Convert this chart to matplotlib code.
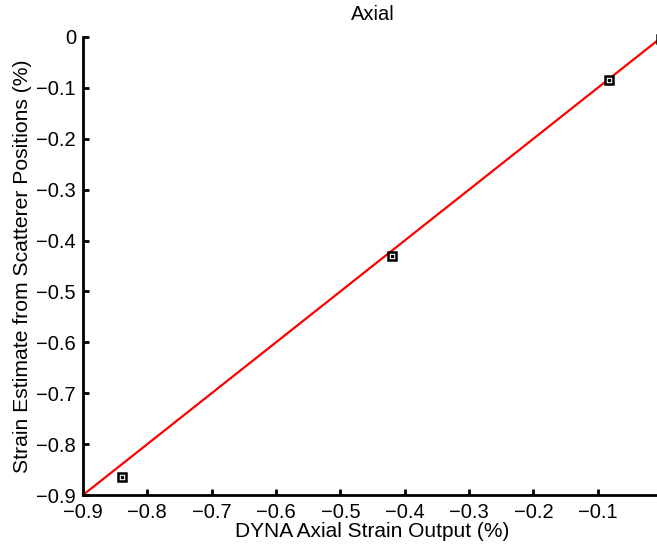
import matplotlib
matplotlib.use("Agg")
import matplotlib.pyplot as plt
import numpy as np

dyna_strain = [-0.840, -0.420, -0.082, -0.002]
scatter_strain = [-0.864, -0.430, -0.0845, -0.004]
fit_x = [-0.9, 0.0]
fit_y = [-0.9, 0.0]
xticks = [-0.9, -0.8, -0.7, -0.6, -0.5, -0.4, -0.3, -0.2, -0.1]
yticks = [0, -0.1, -0.2, -0.3, -0.4, -0.5, -0.6, -0.7, -0.8, -0.9]

plt.rcParams['font.family'] = ['Liberation Sans', 'DejaVu Sans']
plt.rcParams['axes.unicode_minus'] = True

fig = plt.figure(figsize=(6.57, 5.48), dpi=100)
ax = fig.add_axes([83/657, 53/548, 579/657, 458/548])

ax.plot(fit_x, fit_y, color='red', lw=1.6, zorder=2, clip_on=False)
ax.plot(dyna_strain, scatter_strain, linestyle='none', marker='s', markersize=6,
        markerfacecolor='white', markeredgecolor='black', markeredgewidth=1.8, zorder=3, clip_on=False)
ax.plot(dyna_strain, scatter_strain, linestyle='none', marker='s', markersize=1.8,
        markerfacecolor='black', markeredgecolor='black', zorder=4, clip_on=False)

ax.set_xlim(-0.9, 0)
ax.set_ylim(-0.9, 0)
ax.set_xticks(xticks)
ax.set_xticklabels([f"{v:g}".replace('-', '\u2212') for v in xticks])
ax.set_yticks(yticks)
ax.set_yticklabels([f"{v:g}".replace('-', '\u2212') for v in yticks])

for s in ['top', 'right']:
    ax.spines[s].set_visible(False)
for s in ['left', 'bottom']:
    ax.spines[s].set_linewidth(2)
ax.tick_params(direction='in', length=4, width=2, labelsize=14.5)
ax.tick_params(axis='x', pad=5.5)
ax.tick_params(axis='y', pad=5)

ax.set_title('Axial', fontsize=14.5, pad=12)
ax.set_xlabel('DYNA Axial Strain Output (%)', fontsize=15, labelpad=0)
ax.set_ylabel('Strain Estimate from Scatterer Positions (%)', fontsize=15.2, labelpad=3)

fig.savefig('out.png', dpi=100)
